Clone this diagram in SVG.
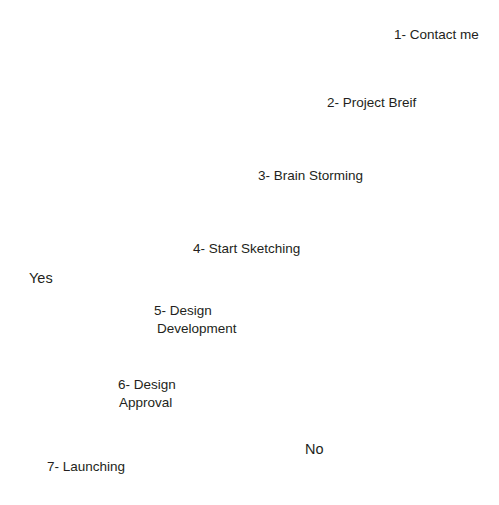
<svg xmlns="http://www.w3.org/2000/svg" width="499" height="505" viewBox="0 0 499 505">
<style>
text{font-family:"Liberation Sans",Arial,sans-serif;fill:#231f20;font-size:13.5px}
.big{font-size:14.5px}
</style>
<rect width="499" height="505" fill="#fff"/>
<g id="step1"><text x="394" y="38.5">1- Contact me</text></g>
<g id="step2"><text x="327" y="106.5">2- Project Breif</text></g>
<g id="step3"><text x="258" y="179.5">3- Brain Storming</text></g>
<g id="step4"><text x="193" y="252.5">4- Start Sketching</text></g>
<g id="yes"><text class="big" x="29" y="282.5">Yes</text></g>
<g id="step5"><text x="154" y="314.5">5- Design</text><text x="157" y="332.5">Development</text></g>
<g id="step6"><text x="118" y="388.5">6- Design</text><text x="119" y="406.5">Approval</text></g>
<g id="no"><text class="big" x="305" y="453.5">No</text></g>
<g id="step7"><text x="47" y="470.5">7- Launching</text></g>
<g id="connectors"></g>
</svg>
